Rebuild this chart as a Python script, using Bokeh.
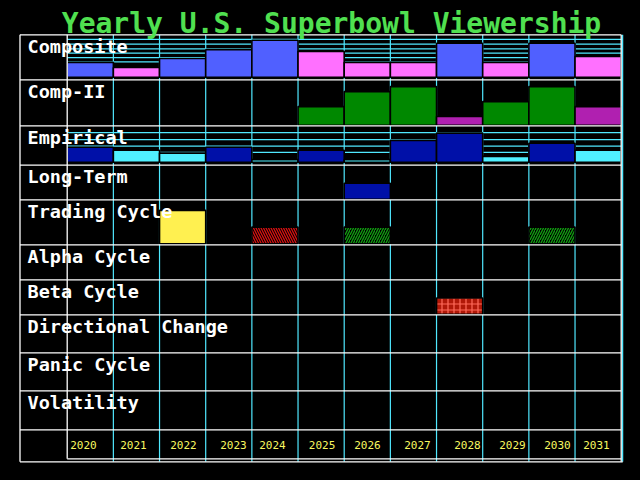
from bokeh.plotting import figure
from bokeh.models import Range1d, ColumnDataSource
from bokeh.core.properties import value
from bokeh.embed import file_html
from bokeh.resources import INLINE

# ---------------- data ----------------
YEARS = list(range(2020, 2032))
ROW_LABELS = ["Composite", "Comp-II", "Empirical", "Long-Term", "Trading Cycle",
              "Alpha Cycle", "Beta Cycle", "Directional Change", "Panic Cycle", "Volatility"]
TITLE = "Yearly U.S. Superbowl Viewership"

# bar strength per year (0-100 of the row band)
COMPOSITE = [35, 23, 44, 65, 87, 61, 35, 35, 80, 35, 80, 49]
COMPOSITE_UP = [1, 0, 1, 1, 1, 0, 0, 0, 1, 0, 1, 0]
COMP2 = [0, 0, 0, 0, 0, 41, 74, 85, 19, 52, 85, 41]
COMP2_UP = [0, 0, 0, 0, 0, 1, 1, 1, 0, 1, 1, 0]
EMPIRICAL = [41, 33, 25, 41, 7, 33, 7, 60, 80, 16, 52, 33]
EMPIRICAL_UP = [1, 0, 0, 1, 0, 1, 0, 1, 1, 0, 1, 0]
LONG_TERM = [0, 0, 0, 0, 0, 0, 47, 0, 0, 0, 0, 0]
TRADING = [0, 0, 76, 0, 38, 0, 38, 0, 0, 0, 38, 0]
TRADING_KIND = ["", "", "major", "", "down", "", "up", "", "", "", "up", ""]
BETA = [0, 0, 0, 0, 0, 0, 0, 0, 47, 0, 0, 0]

COMPOSITE_GUIDES = [36, 46, 57, 67, 78, 89]
EMPIRICAL_GUIDES = [27, 44, 62, 81]

# ---------------- layout (reference pixels) ----------------
X0, X1 = 66.7, 620.7          # first / last column edge
CW = (X1 - X0) / len(YEARS)
OUT_L = 19.5
ROW_TOPS = [34.3, 79.3, 125.3, 164.7, 199.3, 244.3, 279.3, 314.3, 352.3, 390.3]
YEAR_ROW_TOP = 429.3
INNER_BOTTOM = 458.3
OUT_BOTTOM = 461.3
ROW_BASE_GAP = [2.6, 0.6, 3.0, 0.6, 1.0, 0.6, 0.6, 0.6, 0.6, 0.6]
YEAR_LABEL_DX = [3.0, 6.8, 10.7, 14.5, 7.3, 10.8, 10.0, 13.8, 17.7, 16.5, 15.3, 8.2]

W, H = 640, 480
OFF = 0


def px2x(px):
    return 2019.5 + (px - X0) / CW


row_bottoms = ROW_TOPS[1:] + [YEAR_ROW_TOP]


def band(i):
    base = row_bottoms[i] - ROW_BASE_GAP[i]
    return base, base - ROW_TOPS[i]


def level_y(i, v):
    base, h = band(i)
    return base - v / 100.0 * h


p = figure(width=W, height=H, output_backend="svg", toolbar_location=None,
           x_range=Range1d(px2x(OFF), px2x(OFF + W)),
           y_range=Range1d(OFF + H, OFF),
           x_axis_location=None, y_axis_location=None,
           min_border=0, background_fill_color="black", border_fill_color="black",
           outline_line_color=None)
p.grid.visible = False

CYAN = "#50e8ff"
WHITE = "#ffffff"

# cyan vertical column lines
vx = [y - 0.5 for y in YEARS[1:]]
p.segment(x0=vx, x1=vx, y0=[ROW_TOPS[0]] * len(vx), y1=[OUT_BOTTOM] * len(vx),
          line_color=CYAN, line_width=1.2)
p.segment(x0=[px2x(X1 + 1.3)], x1=[px2x(X1 + 1.3)], y0=[ROW_TOPS[0]], y1=[OUT_BOTTOM],
          line_color=CYAN, line_width=1.5)

# cyan guide lines in Composite and Empirical rows
for ri, guides in ((0, COMPOSITE_GUIDES), (2, EMPIRICAL_GUIDES)):
    gy = [level_y(ri, g) for g in guides]
    p.segment(x0=[2019.5] * len(gy), x1=[2031.5] * len(gy), y0=gy, y1=gy,
              line_color=CYAN, line_width=1.2)


def bars(ri, vals, colors, hatch=None):
    xs, tops, bots, cols = [], [], [], []
    base, _ = band(ri)
    for yr, v, c in zip(YEARS, vals, colors):
        if v <= 0:
            continue
        xs.append(yr)
        tops.append(level_y(ri, v))
        bots.append(base)
        cols.append(c)
    src = ColumnDataSource(dict(left=[x - 0.5 for x in xs], right=[x + 0.5 for x in xs],
                                top=tops, bottom=bots, color=cols))
    kw = hatch or {}
    p.quad(left="left", right="right", top="top", bottom="bottom", source=src,
           fill_color="color", line_color="black", line_width=1.6, **kw)


BLUE, PINK = "#5060ff", "#ff70ff"
GREEN, PURPLE = "#008800", "#b020b0"
DBLUE, LCYAN = "#0010a8", "#50f0ff"

bars(0, COMPOSITE, [BLUE if u else PINK for u in COMPOSITE_UP])
bars(1, COMP2, [GREEN if u else PURPLE for u in COMP2_UP])
bars(2, EMPIRICAL, [DBLUE if u else LCYAN for u in EMPIRICAL_UP])
bars(3, LONG_TERM, [DBLUE] * len(YEARS))

# Trading cycle: solid yellow + hatched
bars(4, [v if k == "major" else 0 for v, k in zip(TRADING, TRADING_KIND)], ["#fff050"] * len(YEARS))
bars(4, [v if k == "down" else 0 for v, k in zip(TRADING, TRADING_KIND)], ["black"] * len(YEARS),
     hatch=dict(hatch_pattern="\\", hatch_color="#d81010", hatch_scale=5, hatch_weight=1.3))
bars(4, [v if k == "up" else 0 for v, k in zip(TRADING, TRADING_KIND)], ["black"] * len(YEARS),
     hatch=dict(hatch_pattern="/", hatch_color="#10a010", hatch_scale=5, hatch_weight=1.3))

# Beta cycle: brick pattern
bars(6, BETA, ["#b01808"] * len(YEARS),
     hatch=dict(hatch_pattern="+", hatch_color="#ff6a5a", hatch_scale=6, hatch_weight=1.2))

# white frame and row lines
hy = ROW_TOPS + [YEAR_ROW_TOP]
p.segment(x0=[px2x(OUT_L)] * len(hy), x1=[px2x(X1)] * len(hy), y0=hy, y1=hy,
          line_color=WHITE, line_width=1.3)
p.segment(x0=[px2x(OUT_L), 2019.5, px2x(OUT_L), px2x(X1), 2019.5],
          x1=[px2x(OUT_L), 2019.5, px2x(X1 + 1.5), px2x(X1), px2x(X1)],
          y0=[ROW_TOPS[0], ROW_TOPS[0], OUT_BOTTOM, ROW_TOPS[0], INNER_BOTTOM],
          y1=[OUT_BOTTOM, INNER_BOTTOM, OUT_BOTTOM, OUT_BOTTOM, INNER_BOTTOM],
          line_color=WHITE, line_width=1.3)

# row labels
p.text(x=[px2x(27)] * len(ROW_LABELS), y=[t + 11.6 for t in ROW_TOPS], text=ROW_LABELS,
       text_color=WHITE, text_font=value("DejaVu Sans Mono"), text_font_style="bold",
       text_font_size="18.5px", text_baseline="middle", text_align="left")

# year labels
p.text(x=[y - 0.5 + dx / CW for y, dx in zip(YEARS, YEAR_LABEL_DX)], y=[444.5] * len(YEARS),
       text=[str(y) for y in YEARS], text_color="#f8f860",
       text_font=value("DejaVu Sans Mono"), text_font_size="11px",
       text_baseline="middle", text_align="left")

# title
p.text(x=[px2x(331)], y=[22.5], text=[TITLE], text_color="#50e050",
       text_font=value("DejaVu Sans Mono"), text_font_style="bold", text_font_size="28px",
       text_baseline="middle", text_align="center")

html = file_html(p, INLINE)
html = html.replace("<head>", "<head><style>html,body{background:#000;}</style>", 1)
open("out.html", "w").write(html)
